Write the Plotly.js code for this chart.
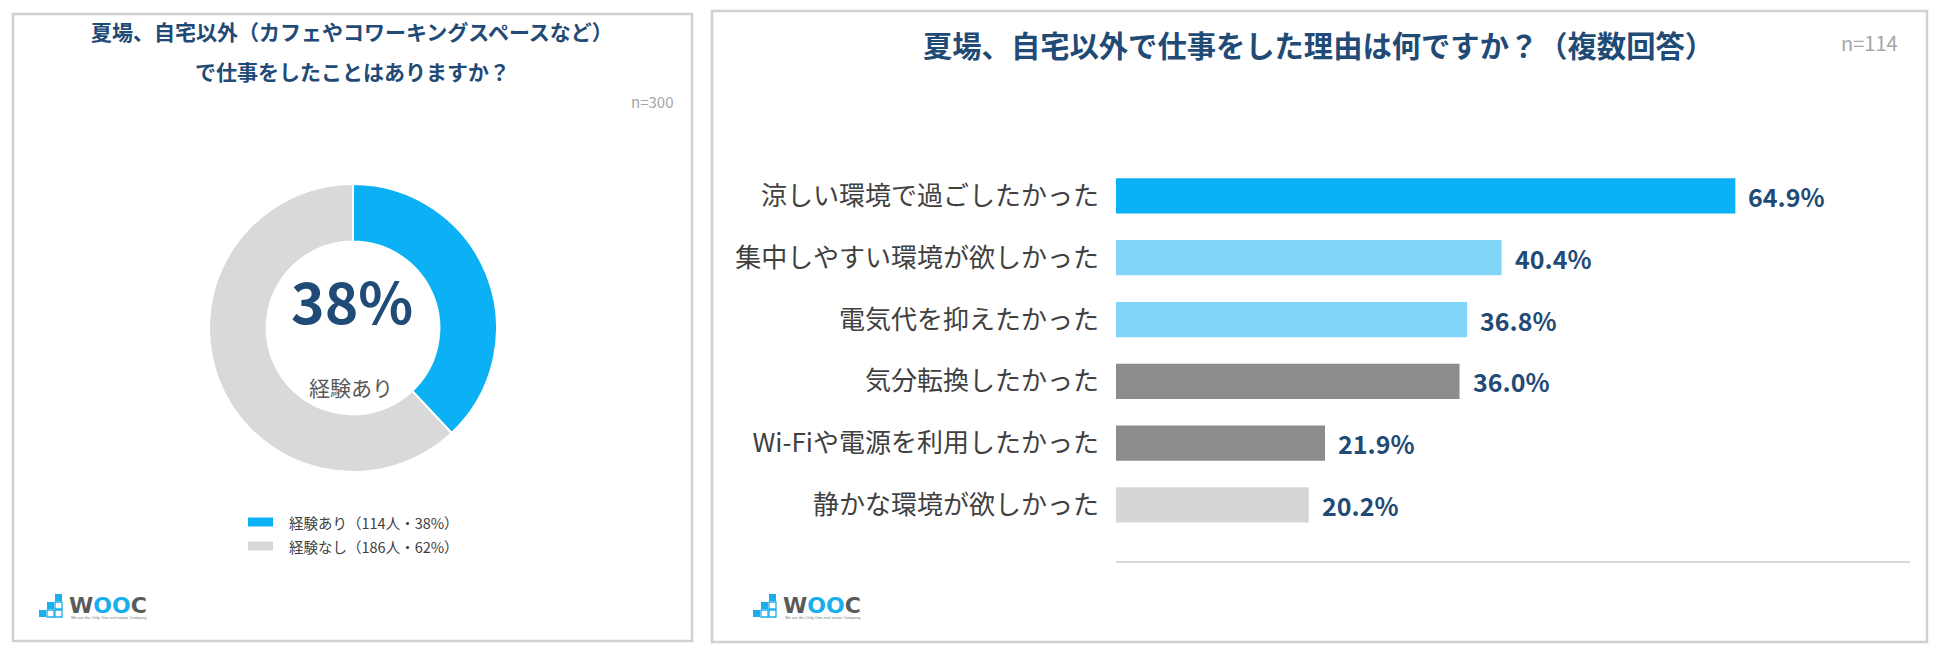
<!DOCTYPE html>
<html>
<head>
<meta charset="utf-8">
<script src="https://cdn.plot.ly/plotly-3.0.1.min.js"></script>
<style>
  html, body { margin: 0; padding: 0; background: #fff; }
  #chart { width: 1950px; height: 655px; }
</style>
</head>
<body>
<div id="chart"></div>
<script>
// left: donut
var expLabels = ['経験あり', '経験なし'];
var expCounts = [114, 186];
var expPcts = [38, 62];

// right: reasons (multiple answers)
var reasons = [
	'涼しい環境で過ごしたかった',
	'集中しやすい環境が欲しかった',
	'電気代を抑えたかった',
	'気分転換したかった',
	'Wi-Fiや電源を利用したかった',
	'静かな環境が欲しかった'
];
var reasonPcts = [64.9, 40.4, 36.8, 36.0, 21.9, 20.2];

var donutColors = ['#0BB1F4', '#D9D9D9'];
var barColors = ['#0BB1F5', '#80D5F9', '#80D5F9', '#8C8C8C', '#8C8C8C', '#D6D6D6'];

var W = 1950, H = 655;
var navy = '#1F4B76';
var jp = 'Noto Sans CJK JP';

// pixel -> paper helpers (margins are zero)
function px(x) { return x / W; }
function py(y) { return 1 - y / H; }

var donut = {
	type: 'pie',
	labels: expLabels,
	values: expCounts,
	marker: {colors: donutColors, line: {color: '#fff', width: 2}},
	hole: 0.6,
	sort: false,
	direction: 'clockwise',
	rotation: 0,
	textinfo: 'none',
	hoverinfo: 'skip',
	showlegend: false,
	domain: {x: [px(209), px(497)], y: [py(472), py(184)]}
};

var bars = {
	type: 'bar',
	orientation: 'h',
	y: reasons,
	x: reasonPcts,
	width: 0.57,
	marker: {color: barColors},
	hoverinfo: 'skip',
	showlegend: false,
	xaxis: 'x',
	yaxis: 'y'
};

var shapes = [
	// panel frames
	{type: 'rect', xref: 'paper', yref: 'paper', x0: px(13), x1: px(692), y0: py(641), y1: py(14),
		line: {color: '#D0D0D0', width: 2.5}},
	{type: 'rect', xref: 'paper', yref: 'paper', x0: px(712), x1: px(1927), y0: py(642), y1: py(11),
		line: {color: '#D0D0D0', width: 2.5}}
];

var annotations = [];

function addText(x, y, text, size, color, opts) {
	var a = {
		xref: 'paper', yref: 'paper', x: px(x), y: py(y),
		text: text, showarrow: false,
		xanchor: 'center', yanchor: 'middle',
		font: {family: jp, size: size, color: color}
	};
	for (var k in (opts || {})) a[k] = opts[k];
	annotations.push(a);
}

// titles
addText(352, 31, '<b>夏場、自宅以外（カフェやコワーキングスペースなど）</b>', 21, navy);
addText(352, 71, '<b>で仕事をしたことはありますか？</b>', 21, navy);
addText(675, 102, 'n=300', 15, '#A6A6A6', {xanchor: 'right'});

addText(1318, 44, '<b>夏場、自宅以外で仕事をした理由は何ですか？（複数回答）</b>', 29.3, navy);
addText(1900, 42, 'n=114', 20, '#A6A6A6', {xanchor: 'right'});

// donut centre
addText(352, 299, '<b>' + expPcts[0] + '%</b>', 57, navy);
addText(351, 387, expLabels[0], 21, '#595959');

// donut legend
var legendRows = [522, 546];
expLabels.forEach(function (lab, i) {
	shapes.push({type: 'rect', xref: 'paper', yref: 'paper',
		x0: px(248), x1: px(273), y0: py(legendRows[i] + 4.5), y1: py(legendRows[i] - 4.5),
		fillcolor: donutColors[i], line: {width: 0}});
	addText(287, legendRows[i], lab + '（' + expCounts[i] + '人・' + expPcts[i] + '%）', 14.5, '#404040',
		{xanchor: 'left'});
});

// bar value labels
reasons.forEach(function (r, i) {
	annotations.push({
		xref: 'x', yref: 'y', x: reasonPcts[i], y: r,
		text: '<b>' + reasonPcts[i].toFixed(1) + '%</b>',
		showarrow: false, xanchor: 'left', yanchor: 'middle', xshift: 11,
		font: {family: jp, size: 25, color: navy}
	});
});

// WOOC logo
function logo(x0, y0, tx) {
	var blue = '#1AAEEC';
	var c = 7, g = 8;
	var cells = [
		[2, 0, true],
		[1, 1, true], [2, 1, false],
		[0, 2, true], [1, 2, false], [2, 2, false]
	];
	cells.forEach(function (cl) {
		var x = x0 + cl[0] * g, y = y0 + cl[1] * g;
		shapes.push({type: 'rect', xref: 'paper', yref: 'paper',
			x0: px(x), x1: px(x + c), y0: py(y + c), y1: py(y),
			fillcolor: cl[2] ? blue : 'rgba(0,0,0,0)',
			line: {color: blue, width: cl[2] ? 0 : 1.3}});
	});
	annotations.push({
		xref: 'paper', yref: 'paper', x: px(tx), y: py(y0 + 11),
		text: '<b>W<span style="color:' + blue + '">OO</span>C</b>',
		showarrow: false, xanchor: 'left', yanchor: 'middle',
		font: {family: 'DejaVu Sans', size: 22, color: '#5A5A5A'}
	});
	annotations.push({
		xref: 'paper', yref: 'paper', x: px(tx + 2), y: py(y0 + 23),
		text: 'We are the Only One real estate Company',
		showarrow: false, xanchor: 'left', yanchor: 'middle',
		font: {family: 'Liberation Sans', size: 4, color: '#777'}
	});
}
logo(39, 594, 67);
logo(753, 594, 781);

var layout = {
	width: W,
	height: H,
	margin: {l: 0, r: 0, t: 0, b: 0},
	paper_bgcolor: '#fff',
	plot_bgcolor: '#fff',
	font: {family: jp},
	xaxis: {
		domain: [px(1116), px(1910)],
		range: [0, 83.2],
		showgrid: false,
		zeroline: false,
		showticklabels: false,
		ticks: '',
		showline: true,
		linecolor: '#D9D9D9',
		linewidth: 2,
		fixedrange: true
	},
	yaxis: {
		domain: [py(561), py(165)],
		type: 'category',
		categoryorder: 'array',
		categoryarray: reasons,
		range: [5.907, -0.5],
		autorange: false,
		showgrid: false,
		zeroline: false,
		showline: false,
		ticks: '',
		ticklabelstandoff: 16,
		tickfont: {family: jp, size: 26, color: '#404040'},
		fixedrange: true
	},
	shapes: shapes,
	annotations: annotations
};

Plotly.newPlot('chart', [donut, bars], layout, {staticPlot: true, displaylogo: false});
</script>
</body>
</html>
